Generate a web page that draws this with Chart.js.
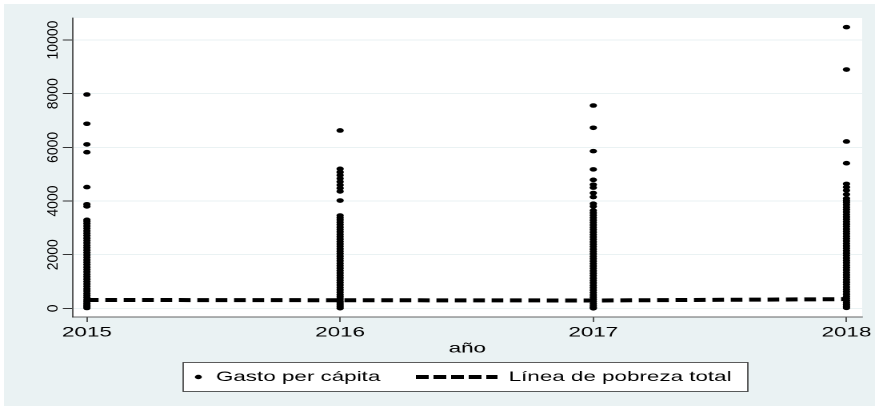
<!DOCTYPE html>
<html>
<head>
<meta charset="utf-8">
<script src="https://cdn.jsdelivr.net/npm/chart.js@4.4.0/dist/chart.umd.min.js"></script>
<style>
  html, body { margin: 0; padding: 0; background: #fff; overflow: hidden; }
  #wrap { width: 875px; height: 406px; }
  /* la imagen original está estirada en horizontal: se dibuja a 547px y se estira a 875px */
  #grafico { transform: scaleX(1.5996); transform-origin: 0 0; }
</style>
</head>
<body>
<div id="wrap"><canvas id="grafico" width="547" height="406"></canvas></div>
<script>
const estiramiento = 1.5996;

// años del eje x
const anios = [2015, 2016, 2017, 2018];
// marcas del eje y
const ticksY = [0, 2000, 4000, 6000, 8000, 10000];

// gasto per cápita (columna densa + atípicos)
const gasto2015 = [15, 60, 120, 180, 250, 320, 400, 480, 560, 650, 730, 820, 910, 1000, 1090, 1180,
  1270, 1360, 1450, 1540, 1630, 1720, 1810, 1900, 1990, 2080, 2170, 2260, 2350, 2440, 2530, 2620,
  2710, 2800, 2890, 2980, 3070, 3160, 3240, 3300, 3800, 3880, 4520, 5820, 6110, 6880, 7970];
const gasto2016 = [10, 70, 130, 200, 270, 350, 430, 510, 600, 690, 780, 870, 960, 1050, 1140, 1230,
  1320, 1410, 1500, 1590, 1680, 1770, 1860, 1950, 2040, 2130, 2220, 2310, 2400, 2490, 2580, 2670,
  2760, 2850, 2940, 3030, 3120, 3210, 3300, 3380, 3460, 4020, 4360, 4480, 4600, 4720, 4840, 4960,
  5080, 5200, 6630];
const gasto2017 = [5, 50, 110, 180, 260, 340, 420, 500, 590, 680, 770, 860, 950, 1040, 1130, 1220,
  1310, 1400, 1490, 1580, 1670, 1760, 1850, 1940, 2030, 2120, 2210, 2300, 2390, 2480, 2570, 2660,
  2750, 2840, 2930, 3020, 3110, 3200, 3290, 3380, 3470, 3560, 3650, 3800, 3900, 4150, 4300, 4500,
  4610, 4790, 5180, 5860, 6730, 7560];
const gasto2018 = [20, 80, 140, 210, 290, 370, 450, 530, 620, 710, 800, 890, 980, 1070, 1160, 1250,
  1340, 1430, 1520, 1610, 1700, 1790, 1880, 1970, 2060, 2150, 2240, 2330, 2420, 2510, 2600, 2690,
  2780, 2870, 2960, 3050, 3140, 3230, 3320, 3410, 3500, 3590, 3680, 3770, 3860, 3950, 4020, 4100,
  4250, 4400, 4520, 4640, 5410, 6220, 8900, 10480];
const gastoPorAnio = [gasto2015, gasto2016, gasto2017, gasto2018];

// línea de pobreza total por año
const lineaPobreza = [315, 305, 295, 345];

const etiquetas = ['Gasto per cápita', 'Línea de pobreza total'];

const fuente = 'Liberation Sans, Arial, sans-serif';
const colorFondo = '#eaf2f3';

// puntos del diagrama
const puntos = [];
gastoPorAnio.forEach(function (lista, i) {
  lista.forEach(function (v) {
    puntos.push({ x: anios[i], y: v });
  });
});
const linea = anios.map(function (a, i) { return { x: a, y: lineaPobreza[i] }; });

// fondo gris azulado y área del gráfico en blanco
const fondo = {
  id: 'fondo',
  beforeDraw: function (chart) {
    const ctx = chart.ctx;
    const a = chart.chartArea;
    ctx.save();
    ctx.fillStyle = '#fff';
    ctx.fillRect(0, 0, chart.width, chart.height);
    ctx.fillStyle = colorFondo;
    ctx.fillRect(2.5, 4, chart.width, chart.height);
    ctx.fillStyle = '#fff';
    ctx.fillRect(a.left, a.top, a.right - a.left, a.bottom - a.top);
    ctx.restore();
  }
};

// etiquetas verticales del eje y + leyenda con recuadro
const extras = {
  id: 'extras',
  afterDraw: function (chart) {
    const ctx = chart.ctx;
    const ey = chart.scales.y;
    ctx.save();
    ctx.fillStyle = '#000';
    ctx.font = '14px ' + fuente;
    ctx.textAlign = 'center';
    ctx.textBaseline = 'middle';
    ey.ticks.forEach(function (t) {
      const py = ey.getPixelForValue(t.value);
      ctx.save();
      ctx.translate(33.5, py);
      ctx.rotate(-Math.PI / 2);
      // las etiquetas giradas no aparecen estiradas en el original
      ctx.scale(1, 1 / estiramiento);
      ctx.fillText(String(t.value), 0, 0);
      ctx.restore();
    });

    // leyenda
    ctx.fillStyle = '#fff';
    ctx.fillRect(114.5, 362, 353, 29);
    ctx.strokeStyle = '#333';
    ctx.lineWidth = 0.8;
    ctx.strokeRect(114.5, 362.5, 353, 29);
    const cy = 377;
    ctx.fillStyle = '#000';
    ctx.beginPath();
    ctx.arc(124, cy, 2.2, 0, Math.PI * 2);
    ctx.fill();
    ctx.textAlign = 'left';
    ctx.fillText(etiquetas[0], 135, cy);
    ctx.strokeStyle = '#000';
    ctx.lineWidth = 4;
    ctx.setLineDash([8, 3]);
    ctx.beginPath();
    ctx.moveTo(260, cy);
    ctx.lineTo(311, cy);
    ctx.stroke();
    ctx.setLineDash([]);
    ctx.fillText(etiquetas[1], 318, cy);
    ctx.restore();
  }
};

new Chart(document.getElementById('grafico').getContext('2d'), {
  type: 'scatter',
  data: {
    datasets: [{
      label: etiquetas[0],
      data: puntos,
      backgroundColor: '#000',
      borderWidth: 0,
      pointRadius: 2.3,
      pointHoverRadius: 2.3
    }, {
      type: 'line',
      label: etiquetas[1],
      data: linea,
      borderColor: '#000',
      borderWidth: 4,
      borderDash: [7.3, 4.2],
      pointRadius: 0,
      fill: false,
      tension: 0
    }]
  },
  options: {
    responsive: false,
    animation: false,
    devicePixelRatio: 2,
    layout: { padding: { top: 18, right: 8, left: 0, bottom: 49 } },
    plugins: { legend: { display: false }, tooltip: { enabled: false } },
    scales: {
      x: {
        type: 'linear',
        min: 2014.943,
        max: 2018.062,
        afterBuildTicks: function (s) { s.ticks = anios.map(function (v) { return { value: v }; }); },
        afterFit: function (s) { s.height = 40; },
        ticks: {
          color: '#000',
          font: { family: fuente, size: 14 },
          padding: 2,
          maxRotation: 0,
          callback: function (v) { return String(v); }
        },
        grid: { drawOnChartArea: false, tickLength: 5, color: '#333', lineWidth: 0.8 },
        border: { color: '#333', width: 0.8 },
        title: {
          display: true,
          text: 'año',
          color: '#000',
          font: { family: fuente, size: 14 },
          padding: { top: 0, bottom: 0 }
        }
      },
      y: {
        min: -320,
        max: 10820,
        afterBuildTicks: function (s) { s.ticks = ticksY.map(function (v) { return { value: v }; }); },
        afterFit: function (s) { s.width = 45.3; },
        ticks: { display: false },
        grid: { color: colorFondo, tickLength: 6, tickColor: '#333' },
        border: { color: '#333', width: 0.8 }
      }
    }
  },
  plugins: [fondo, extras]
});
</script>
</body>
</html>
